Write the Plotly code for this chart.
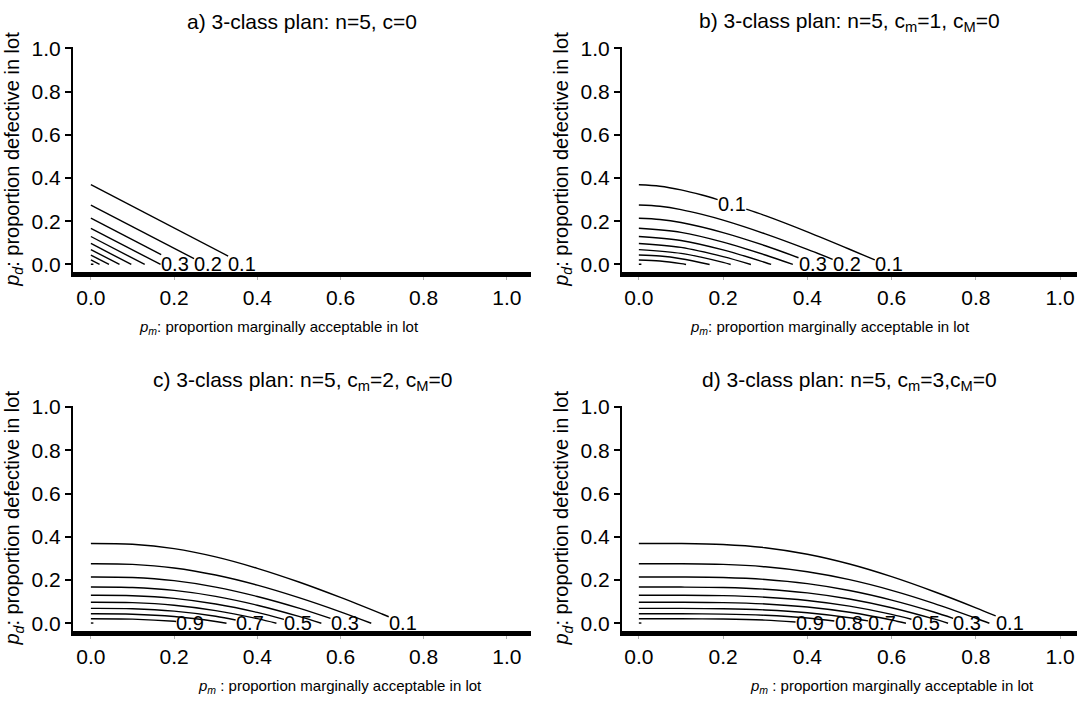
import numpy as np
import plotly.graph_objects as go

W, H = 1080, 710
FONT = "Liberation Sans, Arial, Helvetica, sans-serif"

# Acceptance-probability contour levels
levels = [0.1, 0.2, 0.3, 0.4, 0.5, 0.6, 0.7, 0.8, 0.9]
tick_vals = [0.0, 0.2, 0.4, 0.6, 0.8, 1.0]
tick_text = ["0.0", "0.2", "0.4", "0.6", "0.8", "1.0"]

# ---- contour lines: level -> (p_m values, p_d values)
plan_a = {
    0.1: ([0.0, 0.369], [0.369, 0.0]),
    0.2: ([0.0, 0.275], [0.275, 0.0]),
    0.3: ([0.0, 0.214], [0.214, 0.0]),
    0.4: ([0.0, 0.1675], [0.1675, 0.0]),
    0.5: ([0.0, 0.1294], [0.1294, 0.0]),
    0.6: ([0.0, 0.0971], [0.0971, 0.0]),
    0.7: ([0.0, 0.0688], [0.0688, 0.0]),
    0.8: ([0.0, 0.0436], [0.0436, 0.0]),
    0.9: ([0.0, 0.0209], [0.0209, 0.0]),
}
plan_b = {
    0.1: ([0.0, 0.05, 0.1, 0.15, 0.2, 0.3, 0.4, 0.5, 0.585], [0.369, 0.3622, 0.3452, 0.3212, 0.2928, 0.2259, 0.1509, 0.0705, 0.0]),
    0.2: ([0.0, 0.05, 0.1, 0.15, 0.2, 0.3, 0.4, 0.491], [0.275, 0.2692, 0.254, 0.2318, 0.2052, 0.1417, 0.070, 0.0]),
    0.3: ([0.0, 0.05, 0.1, 0.2, 0.3, 0.4, 0.423], [0.214, 0.2084, 0.194, 0.1475, 0.0865, 0.0164, 0.0]),
    0.4: ([0.0, 0.1, 0.2, 0.3, 0.3655], [0.1675, 0.1484, 0.1033, 0.0439, 0.0]),
    0.5: ([0.0, 0.1, 0.2, 0.3, 0.314], [0.1294, 0.1111, 0.0673, 0.0091, 0.0]),
    0.6: ([0.0, 0.1, 0.2, 0.266], [0.0971, 0.0791, 0.0364, 0.0]),
    0.7: ([0.0, 0.1, 0.15, 0.2, 0.218], [0.0688, 0.0514, 0.0326, 0.0095, 0.0]),
    0.8: ([0.0, 0.05, 0.1, 0.168], [0.0436, 0.0389, 0.0266, 0.0]),
    0.9: ([0.0, 0.05, 0.1, 0.112], [0.0209, 0.0162, 0.0041, 0.0]),
}
plan_c = {
    0.1: ([0.0, 0.1, 0.2, 0.3, 0.4, 0.5, 0.6, 0.7, 0.754], [0.369, 0.3654, 0.3453, 0.307, 0.2542, 0.1908, 0.1194, 0.0427, 0.0]),
    0.2: ([0.0, 0.1, 0.2, 0.3, 0.4, 0.5, 0.6, 0.674], [0.275, 0.2724, 0.2559, 0.2232, 0.1764, 0.1185, 0.0528, 0.0]),
    0.3: ([0.0, 0.1, 0.2, 0.3, 0.4, 0.5, 0.6, 0.611], [0.214, 0.2116, 0.197, 0.1674, 0.124, 0.0699, 0.0071, 0.0]),
    0.4: ([0.0, 0.1, 0.2, 0.3, 0.4, 0.5, 0.554], [0.1675, 0.1652, 0.152, 0.1244, 0.0835, 0.0318, 0.0]),
    0.5: ([0.0, 0.1, 0.2, 0.3, 0.4, 0.5], [0.1294, 0.1275, 0.115, 0.0891, 0.0501, 0.0]),
    0.6: ([0.0, 0.1, 0.2, 0.3, 0.4, 0.446], [0.0971, 0.0952, 0.0835, 0.0586, 0.0211, 0.0]),
    0.7: ([0.0, 0.1, 0.2, 0.3, 0.389], [0.0688, 0.0671, 0.0559, 0.0322, 0.0]),
    0.8: ([0.0, 0.1, 0.2, 0.3, 0.326], [0.0436, 0.0419, 0.0313, 0.0084, 0.0]),
    0.9: ([0.0, 0.1, 0.2, 0.246], [0.0209, 0.0191, 0.009, 0.0]),
}
plan_d = {
    0.1: ([0.0, 0.1, 0.2, 0.3, 0.4, 0.5, 0.6, 0.7, 0.8, 0.889], [0.369, 0.369, 0.3646, 0.3496, 0.3193, 0.2741, 0.2156, 0.147, 0.0715, 0.0]),
    0.2: ([0.0, 0.1, 0.2, 0.3, 0.4, 0.5, 0.6, 0.7, 0.8, 0.832], [0.275, 0.2752, 0.2722, 0.2612, 0.2382, 0.2017, 0.1523, 0.0921, 0.0232, 0.0]),
    0.3: ([0.0, 0.1, 0.2, 0.3, 0.4, 0.5, 0.6, 0.7, 0.782], [0.214, 0.214, 0.2116, 0.2027, 0.1833, 0.1516, 0.1073, 0.0522, 0.0]),
    0.4: ([0.0, 0.1, 0.2, 0.3, 0.4, 0.5, 0.6, 0.7, 0.734], [0.1675, 0.1675, 0.1654, 0.1576, 0.1405, 0.1121, 0.0716, 0.0199, 0.0]),
    0.5: ([0.0, 0.1, 0.2, 0.3, 0.4, 0.5, 0.6, 0.686], [0.1294, 0.1296, 0.1277, 0.1206, 0.1054, 0.079, 0.0413, 0.0]),
    0.6: ([0.0, 0.1, 0.2, 0.3, 0.4, 0.5, 0.6, 0.634], [0.0971, 0.0971, 0.0955, 0.0893, 0.0751, 0.0507, 0.0152, 0.0]),
    0.7: ([0.0, 0.1, 0.2, 0.3, 0.4, 0.5, 0.577], [0.0688, 0.069, 0.0674, 0.0615, 0.0485, 0.0255, 0.0]),
    0.8: ([0.0, 0.1, 0.2, 0.3, 0.4, 0.5, 0.509], [0.0436, 0.0436, 0.0422, 0.0369, 0.0245, 0.0028, 0.0]),
    0.9: ([0.0, 0.1, 0.2, 0.3, 0.4, 0.415], [0.0209, 0.0208, 0.0195, 0.0145, 0.0028, 0.0]),
}
# level 1.0 contour: a tiny dash at the origin
corner_pm = [0.0, 0.006]
corner_pd = [0.001, 0.001]

# contour labels: level, p_m centre, p_d centre
labels_a = {"level": [0.3, 0.2, 0.1], "pm": [0.203, 0.282, 0.364], "pd": [0.0, 0.0, 0.0]}
labels_b = {"level": [0.1, 0.3, 0.2, 0.1], "pm": [0.221, 0.413, 0.494, 0.594], "pd": [0.28, 0.0, 0.0, 0.0]}
labels_c = {"level": [0.9, 0.7, 0.5, 0.3, 0.1], "pm": [0.239, 0.382, 0.498, 0.61, 0.75], "pd": [0.0, 0.0, 0.0, 0.0, 0.0]}
labels_d = {"level": [0.9, 0.8, 0.7, 0.5, 0.3, 0.1], "pm": [0.406, 0.498, 0.578, 0.681, 0.78, 0.881], "pd": [0.0] * 6}

titles = [
    "a) 3-class plan: n=5, c=0",
    "b) 3-class plan: n=5, c<sub>m</sub>=1, c<sub>M</sub>=0",
    "c) 3-class plan: n=5, c<sub>m</sub>=2, c<sub>M</sub>=0",
    "d) 3-class plan: n=5, c<sub>m</sub>=3,c<sub>M</sub>=0",
]
x_titles = [
    "<i>p</i><sub><i>m</i></sub>: proportion marginally acceptable in lot",
    "<i>p</i><sub><i>m</i></sub>: proportion marginally acceptable in lot",
    "<i>p</i><sub><i>m</i></sub> : proportion marginally acceptable in lot",
    "<i>p</i><sub><i>m</i></sub> : proportion marginally acceptable in lot",
]
y_title = "<i>p</i><sub><i>d</i></sub>: proportion defective in lot"

# ---- layout geometry (pixels)
ROW_SHIFT = 366
panels = [
    dict(plan=plan_a, labels=labels_a, xpx=(73, 531), xr=(-0.043, 1.058), row=0, xt=0.453),
    dict(plan=plan_b, labels=labels_b, xpx=(622, 1077), xr=(-0.040, 1.040), row=0, xt=0.453),
    dict(plan=plan_c, labels=labels_c, xpx=(73, 531), xr=(-0.043, 1.058), row=1, xt=0.60),
    dict(plan=plan_d, labels=labels_d, xpx=(622, 1077), xr=(-0.040, 1.040), row=1, xt=0.60),
]
YPX = (37, 266.5)
YR = (-0.036, 1.005)
LAB_HALF = 0.034  # half label width in p_m units

fig = go.Figure()
annotations = []
layout = dict(
    width=W, height=H, margin=dict(l=0, r=0, t=0, b=0),
    paper_bgcolor="white", plot_bgcolor="white", showlegend=False,
    font=dict(family=FONT, color="black"),
)


def cut_segments(xs, ys, gaps):
    xs = np.asarray(xs, float)
    ys = np.asarray(ys, float)
    segs = []
    start = xs[0]
    bounds = sorted(gaps) + [(xs[-1] + 1, xs[-1] + 1)]
    for g0, g1 in bounds:
        end = min(g0, xs[-1])
        if end > start:
            inner = xs[(xs > start) & (xs < end)]
            sx = np.concatenate([[start], inner, [end]])
            sy = np.interp(sx, xs, ys)
            segs.append((sx, sy))
        start = max(start, g1)
        if start >= xs[-1]:
            break
    return segs


for i, p in enumerate(panels):
    n = i + 1
    xa = "x" if n == 1 else f"x{n}"
    ya = "y" if n == 1 else f"y{n}"
    top = YPX[0] + p["row"] * ROW_SHIFT
    bot = YPX[1] + p["row"] * ROW_SHIFT
    l, r = p["xpx"]
    lab = p["labels"]

    for lev in levels:
        xs, ys = p["plan"][lev]
        gaps = []
        for lv, lx, ly in zip(lab["level"], lab["pm"], lab["pd"]):
            if lv == lev:
                if ly == 0.0:
                    gaps.append((lx - LAB_HALF, xs[-1] + 1))
                else:
                    gaps.append((lx - LAB_HALF, lx + LAB_HALF))
        for sx, sy in cut_segments(xs, ys, gaps):
            fig.add_trace(go.Scatter(
                x=sx, y=sy, mode="lines", xaxis=xa, yaxis=ya, hoverinfo="skip",
                line=dict(color="black", width=1.4, shape="spline", smoothing=0.9)))
    for lv, lx, ly in zip(lab["level"], lab["pm"], lab["pd"]):
        annotations.append(dict(
            x=lx, y=ly, xref=xa, yref=ya, text=f"{lv:.1f}", showarrow=False,
            xanchor="center", yanchor="middle", font=dict(size=20, family=FONT, color="black")))
    fig.add_trace(go.Scatter(x=corner_pm, y=corner_pd, mode="lines", xaxis=xa, yaxis=ya,
                             hoverinfo="skip", line=dict(color="black", width=1.4)))

    layout["xaxis" if n == 1 else f"xaxis{n}"] = dict(
        domain=[l / W, r / W], range=list(p["xr"]), anchor=ya,
        tickvals=tick_vals, ticktext=tick_text, ticks="outside", ticklen=3, tickwidth=1,
        tickcolor="#b0b0b0", showline=True, linewidth=5, linecolor="black",
        showgrid=False, zeroline=False, tickfont=dict(size=21, family=FONT, color="black"),
        ticklabelstandoff=0,
    )
    layout["yaxis" if n == 1 else f"yaxis{n}"] = dict(
        domain=[1 - bot / H, 1 - top / H], range=list(YR), anchor=xa,
        tickvals=tick_vals, ticktext=tick_text, ticks="outside", ticklen=6, tickwidth=1.5,
        tickcolor="black", showline=True, linewidth=2, linecolor="black",
        showgrid=False, zeroline=False, tickfont=dict(size=21, family=FONT, color="black"),
    )

    cx = (l + r) / 2
    annotations.append(dict(
        x=cx / W, y=1 - (11 + p["row"] * ROW_SHIFT) / H, xref="paper", yref="paper",
        text=titles[i], showarrow=False, xanchor="center", yanchor="middle",
        font=dict(size=21, family=FONT, color="black")))
    # x-axis title, centred at a p_m position
    xr0, xr1 = p["xr"]
    xt_px = l + (p["xt"] - xr0) / (xr1 - xr0) * (r - l)
    annotations.append(dict(
        x=xt_px / W, y=1 - (323 + p["row"] * ROW_SHIFT) / H, xref="paper", yref="paper",
        text=x_titles[i], showarrow=False, xanchor="center", yanchor="middle",
        font=dict(size=15, family=FONT, color="black")))
    annotations.append(dict(
        x=(l - 59) / W, y=1 - ((top + bot) / 2) / H, xref="paper", yref="paper",
        text=y_title, showarrow=False, xanchor="center", yanchor="middle", textangle=-90,
        font=dict(size=20, family=FONT, color="black")))

layout["annotations"] = annotations
fig.update_layout(**layout)
fig.write_html("out.html")
